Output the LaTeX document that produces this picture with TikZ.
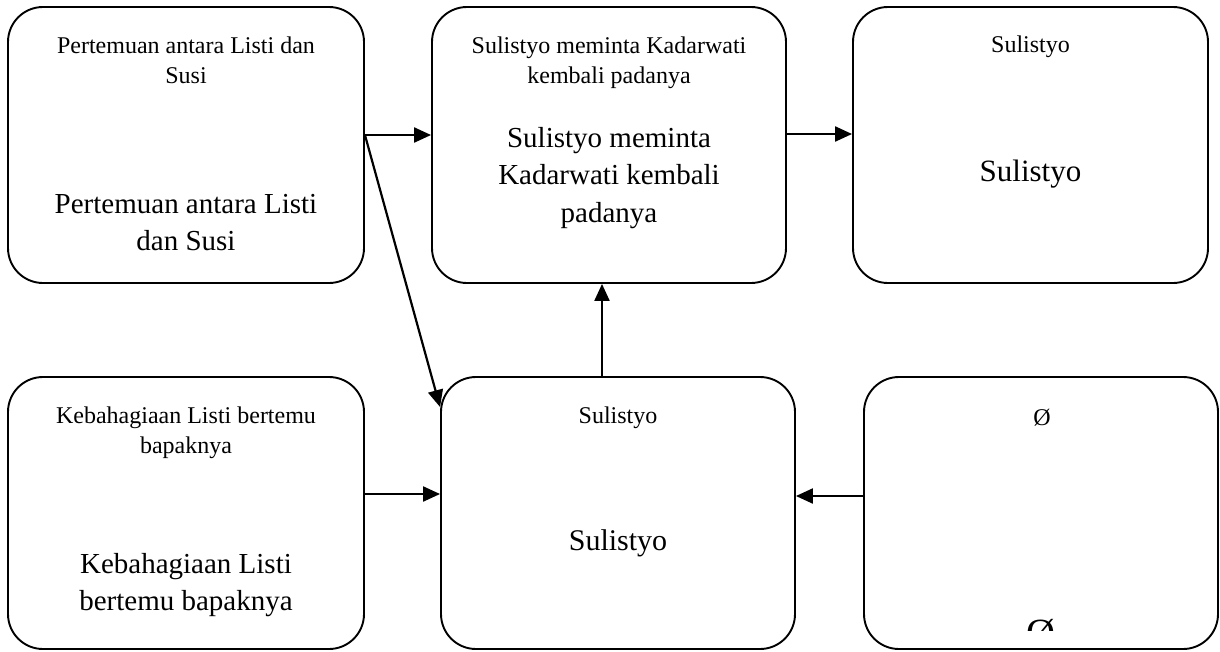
\documentclass[tikz,border=0pt]{standalone}
\usepackage{fontspec}
\setmainfont{Liberation Serif}
\usetikzlibrary{arrows.meta}
% centred block of lines whose baseline is the first line's baseline
\newcommand{\cardlines}[1]{\parbox[t]{340pt}{\centering #1}}
\begin{document}
\begin{tikzpicture}[x=1pt,y=-1pt,
  card/.style={draw=black, line width=1.9pt, rounded corners=35pt, inner sep=0pt},
  captxt/.style={anchor=base, inner sep=0pt, font=\fontsize{24}{30}\selectfont},
  bodytxt/.style={anchor=base, inner sep=0pt, font=\fontsize{29}{37.5}\selectfont},
  link/.style={line width=2.2pt, -{Triangle[length=17pt,width=15pt]}}]
\useasboundingbox (0,0) rectangle (1220,651);

% boxes
\node[card, minimum width=356pt, minimum height=276pt] (A) at (186,145) {};
\node[card, minimum width=354pt, minimum height=276pt] (B) at (609,145) {};
\node[card, minimum width=355pt, minimum height=276pt] (C) at (1030.5,145) {};
\node[card, minimum width=356pt, minimum height=272pt] (D) at (186,513) {};
\node[card, minimum width=354pt, minimum height=272pt] (E) at (618,513) {};
\node[card, minimum width=354pt, minimum height=272pt] (F) at (1041,513) {};

% texts of the upper row
\node[captxt] (Acap) at (186,53) {\cardlines{Pertemuan antara Listi dan\\ Susi}};
\node[bodytxt] (Abody) at (186,213) {\cardlines{Pertemuan antara Listi\\ dan Susi}};
\node[captxt] (Bcap) at (609,53) {\cardlines{Sulistyo meminta Kadarwati\\ kembali padanya}};
\node[bodytxt] (Bbody) at (609,147) {\cardlines{Sulistyo meminta\\ Kadarwati kembali\\ padanya}};
\node[captxt] (Ccap) at (1030.5,52) {Sulistyo};
\node[bodytxt, font=\fontsize{31}{38}\selectfont] (Cbody) at (1030.5,181) {Sulistyo};

% texts of the lower row
\node[captxt] (Dcap) at (186,423) {\cardlines{Kebahagiaan Listi bertemu\\ bapaknya}};
\node[bodytxt] (Dbody) at (186,573) {\cardlines{Kebahagiaan Listi\\ bertemu bapaknya}};
\node[captxt] (Ecap) at (618,423) {Sulistyo};
\node[bodytxt, font=\fontsize{30}{38}\selectfont] (Ebody) at (618,550) {Sulistyo};
\node[captxt] (Fcap) at (1042,425) {Ø};
% the large sign overflows its box and only its top shows
\begin{scope}
  \clip (866,600) rectangle (1216,630);
  \node[bodytxt, font=\fontsize{40}{48}\selectfont] (Fbody) at (1041,646) {Ø};
\end{scope}

% helper rows and columns for the connectors
\coordinate (r134) at (0,134);
\coordinate (r135) at (0,135);
\coordinate (r407) at (0,407);
\coordinate (r494) at (0,494);
\coordinate (r496) at (0,496);
\coordinate (c602) at (602,0);

% connectors
\draw[link] (A.east |- r135) -- (B.west |- r135);
\draw[link] (A.east |- r135) -- (E.west |- r407);
\draw[link] (B.east |- r134) -- (C.west |- r134);
\draw[link] (E.north -| c602) -- (B.south -| c602);
\draw[link] (D.east |- r494) -- (E.west |- r494);
\draw[link] (F.west |- r496) -- (E.east |- r496);
\end{tikzpicture}
\end{document}
